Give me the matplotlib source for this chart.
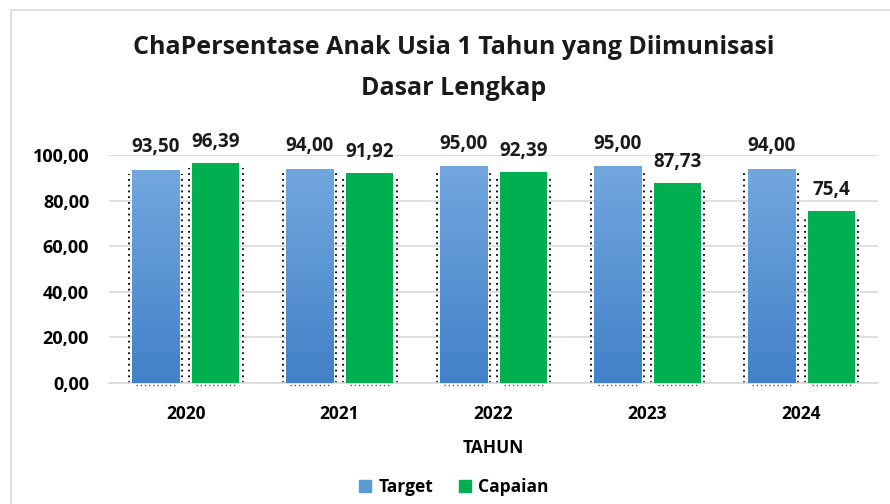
import numpy as np
import matplotlib.pyplot as plt
from matplotlib.patches import Rectangle
from matplotlib.colors import LinearSegmentedColormap

plt.rcParams['font.family'] = ['Open Sans', 'DejaVu Sans']

years = ['2020', '2021', '2022', '2023', '2024']
target = [93.50, 94.00, 95.00, 95.00, 94.00]
capaian = [96.39, 91.92, 92.39, 87.73, 75.4]
target_labels = ['93,50', '94,00', '95,00', '95,00', '94,00']
capaian_labels = ['96,39', '91,92', '92,39', '87,73', '75,4']
yticks = [0, 20, 40, 60, 80, 100]

fig = plt.figure(figsize=(8.9, 5.04), dpi=100)
fig.patches.append(Rectangle((0.012, -0.01), 1.0, 0.99, transform=fig.transFigure,
                             fill=False, edgecolor='#d9d9d9', lw=1.2))
ax = fig.add_axes([0.122, 0.240, 0.865, 0.4525])

x = np.arange(len(years))
w = 0.31
off = 0.195
blue_grad = np.linspace(0, 1, 100).reshape(-1, 1)
cmap = LinearSegmentedColormap.from_list('b', ['#4281c8', '#72a7de'])

bars_t = ax.bar(x - off, target, w, color='#5b9bd5', zorder=3)
bars_c = ax.bar(x + off, capaian, w, color='#00b050', zorder=3)

# gradient fill for the target bars
for b in bars_t:
    x0, h = b.get_x(), b.get_height()
    im = ax.imshow(blue_grad, cmap=cmap, origin='lower', aspect='auto',
                   extent=(x0, x0 + w, 0, h), zorder=3)
    im.set_clip_path(b)
    b.set_facecolor('none')

# dotted shadow edges
for bars in (bars_t, bars_c):
    for b in bars:
        x0, h = b.get_x(), b.get_height()
        ax.vlines([x0 - 0.02, x0 + w + 0.02], 0, h - 2, colors='black',
                  linestyles=(0, (1, 2.2)), lw=1.3, zorder=2, clip_on=False)
        ax.hlines(-0.8, x0 + 0.03, x0 + w - 0.03, colors='#555555',
                  linestyles=(0, (1, 2)), lw=1, zorder=2, clip_on=False)

for i in range(len(years)):
    ax.text(x[i] - off, target[i] + 5.5, target_labels[i], ha='center', va='bottom',
            fontsize=13.5, fontweight='bold', color='#1a1a1a')
    ax.text(x[i] + off, capaian[i] + 5, capaian_labels[i], ha='center', va='bottom',
            fontsize=13.5, fontweight='bold', color='#1a1a1a')

ax.set_xlim(-0.5, 4.5)
ax.set_ylim(0, 100)
ax.set_yticks(yticks)
ax.set_yticklabels([f'{v},00' for v in yticks], fontsize=13, fontweight='bold')
ax.set_xticks(x)
ax.set_xticklabels(years, fontsize=12.5, fontweight='bold')
ax.tick_params(length=0, pad=14)
ax.tick_params(axis='x', pad=16)
ax.grid(axis='y', color='#d9d9d9', lw=1.2, zorder=0)
ax.set_axisbelow(True)
for s in ['top', 'right', 'left']:
    ax.spines[s].set_visible(False)
ax.spines['bottom'].set_color('#d9d9d9')
ax.spines['bottom'].set_linewidth(1.2)

ax.set_xlabel('TAHUN', fontsize=12.5, fontweight='bold', labelpad=11)

fig.text(0.51, 0.905, 'ChaPersentase Anak Usia 1 Tahun yang Diimunisasi', ha='center',
         va='center', fontsize=18, fontweight='bold', color='#1a1a1a')
fig.text(0.51, 0.825, 'Dasar Lengkap', ha='center', va='center', fontsize=18,
         fontweight='bold', color='#1a1a1a')

h1 = Rectangle((0, 0), 1, 1, color='#5b9bd5')
h2 = Rectangle((0, 0), 1, 1, color='#00b050')
fig.legend([h1, h2], ['Target', 'Capaian'], loc='center', bbox_to_anchor=(0.51, 0.033),
           ncol=2, frameon=False, handlelength=0.7, handleheight=0.7, handletextpad=0.4,
           columnspacing=1.5, prop={'weight': 'bold', 'size': 12.5})

fig.savefig('out.png', dpi=100)
